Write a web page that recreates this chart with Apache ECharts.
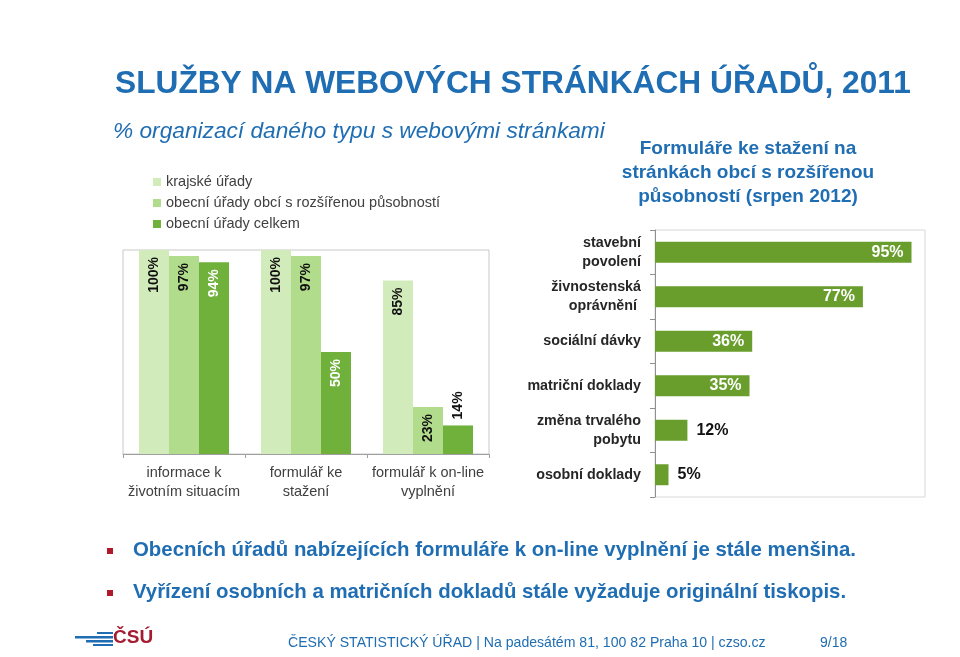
<!DOCTYPE html>
<html>
<head>
<meta charset="utf-8">
<script src="https://cdn.jsdelivr.net/npm/echarts@6/dist/echarts.min.js"></script>
<style>html,body{margin:0;padding:0;background:#fff}#c{width:960px;height:657px}</style>
</head>
<body>
<div id="c"></div>
<script>
// ---- data ----
const leftCategories = ['informace k\nživotním situacím', 'formulář ke\nstažení', 'formulář k on-line\nvyplnění'];
const leftSeriesNames = ['krajské úřady', 'obecní úřady obcí s rozšířenou působností', 'obecní úřady celkem'];
const krajske = [100, 100, 85];
const orp = [97, 97, 23];
const obceCelkem = [94, 50, 14];

const rightCategories = ['stavební\npovolení', 'živnostenská\noprávnění ', 'sociální dávky', 'matriční doklady', 'změna trvalého\npobytu', 'osobní doklady'];
const rightValues = [95, 77, 36, 35, 12, 5];

const FONT = 'Liberation Sans, Arial, sans-serif';
const BLUE = '#1f6db2';
const leftColors = ['#d2ebbb', '#b1dc8c', '#70b13b'];

const chart = echarts.init(document.getElementById('c'));

function leftLabel(color) {
  return {
    show: true, position: 'insideTop', rotate: 90, align: 'right', verticalAlign: 'middle',
    distance: 7, fontFamily: FONT, fontWeight: 'bold', fontSize: 14, color: color,
    formatter: '{c}%'
  };
}

const darkData = obceCelkem.map(v => v >= 30 ? v : {
  value: v,
  label: { position: 'top', align: 'left', color: '#111', distance: 6 }
});

const rightData = rightValues.map(v => v >= 30 ? v : {
  value: v,
  label: { position: 'right', color: '#111', distance: 9 }
});

chart.setOption({
  animation: false,
  title: [
    { text: 'SLUŽBY NA WEBOVÝCH STRÁNKÁCH ÚŘADŮ, 2011', left: 110, top: 63,
      textStyle: { fontFamily: FONT, fontWeight: 'bold', fontSize: 31.7, color: BLUE } },
    { text: '% organizací daného typu s webovými stránkami', left: 108, top: 115,
      textStyle: { fontFamily: FONT, fontStyle: 'italic', fontWeight: 'normal', fontSize: 22.7, color: BLUE } },
    { text: 'Formuláře ke stažení na\nstránkách obcí s rozšířenou\npůsobností (srpen 2012)', left: 743, top: 132,
      textAlign: 'center',
      textStyle: { fontFamily: FONT, fontWeight: 'bold', fontSize: 19, lineHeight: 24, color: BLUE, align: 'center' } }
  ],
  legend: {
    orient: 'vertical', left: 148, top: 169, itemWidth: 8, itemHeight: 8, itemGap: 5,
    icon: 'rect', data: leftSeriesNames,
    textStyle: { fontFamily: FONT, fontSize: 14.5, color: '#404040', lineHeight: 16 }
  },
  grid: [
    { left: 123, top: 250, width: 366, height: 204, show: true, borderColor: '#c8c8c8', borderWidth: 1 },
    { left: 655, top: 230, width: 270, height: 267, show: true, borderColor: '#d8d8d8', borderWidth: 1 }
  ],
  xAxis: [
    { type: 'category', gridIndex: 0, data: leftCategories,
      axisLine: { lineStyle: { color: '#a0a0a0' } },
      axisTick: { show: true, length: 4, lineStyle: { color: '#a0a0a0' } },
      axisLabel: { interval: 0, fontFamily: FONT, fontSize: 14.5, color: '#404040', lineHeight: 19, margin: 9 } },
    { type: 'value', gridIndex: 1, min: 0, max: 100, show: false }
  ],
  yAxis: [
    { type: 'value', gridIndex: 0, min: 0, max: 100, show: false, splitLine: { show: false } },
    { type: 'category', gridIndex: 1, data: rightCategories, inverse: true,
      axisLine: { lineStyle: { color: '#909090' } },
      axisTick: { show: true, length: 5, lineStyle: { color: '#909090' } },
      axisLabel: { interval: 0, fontFamily: FONT, fontSize: 14.3, fontWeight: 'bold', color: '#262626', lineHeight: 19, margin: 14, align: 'right' } }
  ],
  series: [
    { name: leftSeriesNames[0], type: 'bar', xAxisIndex: 0, yAxisIndex: 0, data: krajske,
      itemStyle: { color: leftColors[0] }, barWidth: 30, barGap: '0%', label: leftLabel('#111') },
    { name: leftSeriesNames[1], type: 'bar', xAxisIndex: 0, yAxisIndex: 0, data: orp,
      itemStyle: { color: leftColors[1] }, barWidth: 30, barGap: '0%', label: leftLabel('#111') },
    { name: leftSeriesNames[2], type: 'bar', xAxisIndex: 0, yAxisIndex: 0, data: darkData,
      itemStyle: { color: leftColors[2] }, barWidth: 30, barGap: '0%', label: leftLabel('#fff') },
    { name: 'formuláře', type: 'bar', xAxisIndex: 1, yAxisIndex: 1, data: rightData,
      itemStyle: { color: '#699e2c' }, barWidth: 21,
      label: { show: true, position: 'insideRight', distance: 8, formatter: '{c}%',
        fontFamily: FONT, fontWeight: 'bold', fontSize: 16, color: '#fff' } }
  ],
  graphic: [
    { type: 'rect', left: 107, top: 548, shape: { width: 6, height: 6 }, style: { fill: '#b0182e' } },
    { type: 'text', left: 133, top: 540, style: { text: 'Obecních úřadů nabízejících formuláře k on-line vyplnění je stále menšina.',
      font: 'bold 20.4px ' + FONT, fill: BLUE } },
    { type: 'rect', left: 107, top: 590, shape: { width: 6, height: 6 }, style: { fill: '#b0182e' } },
    { type: 'text', left: 133, top: 582, style: { text: 'Vyřízení osobních a matričních dokladů stále vyžaduje originální tiskopis.',
      font: 'bold 20.4px ' + FONT, fill: BLUE } },
    // logo
    { type: 'rect', left: 97, top: 632, shape: { width: 16, height: 2 }, style: { fill: '#1f6db2' } },
    { type: 'rect', left: 75, top: 636, shape: { width: 38, height: 2.5 }, style: { fill: '#1f6db2' } },
    { type: 'rect', left: 86, top: 640, shape: { width: 27, height: 2.5 }, style: { fill: '#1f6db2' } },
    { type: 'rect', left: 93, top: 644, shape: { width: 20, height: 2 }, style: { fill: '#1f6db2' } },
    { type: 'text', left: 113, top: 628, style: { text: 'ČSÚ', font: 'bold 19px ' + FONT, fill: '#a51c30' } },
    { type: 'text', left: 288, top: 636, style: { text: 'ČESKÝ STATISTICKÝ ÚŘAD | Na padesátém 81, 100 82 Praha 10 | czso.cz',
      font: '14.1px ' + FONT, fill: BLUE } },
    { type: 'text', left: 820, top: 636, style: { text: '9/18', font: '14px ' + FONT, fill: BLUE } }
  ]
});
</script>
</body>
</html>
